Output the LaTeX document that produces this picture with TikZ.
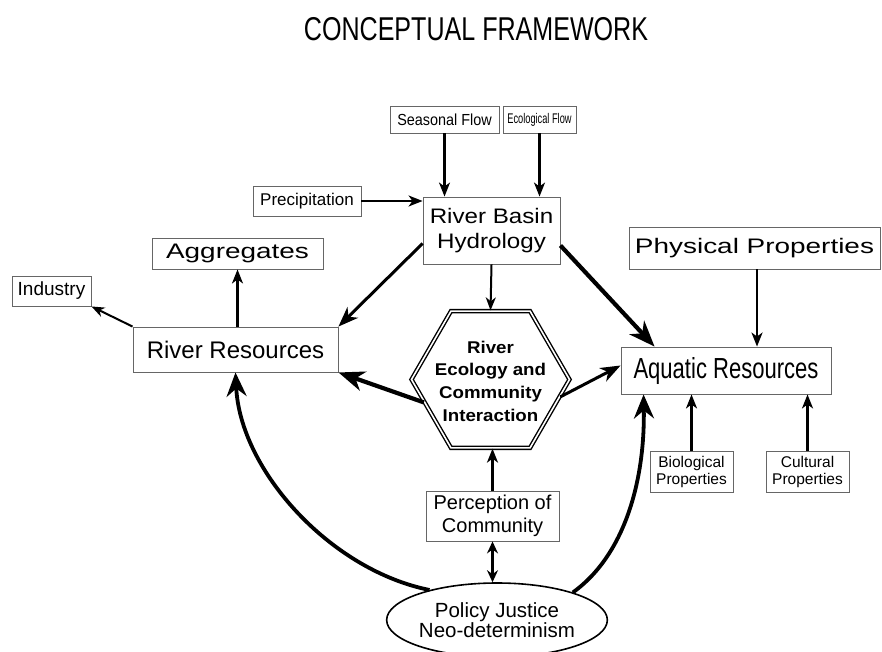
\documentclass[tikz,border=0pt]{standalone}
\usepackage{fontspec}
\setmainfont{Liberation Sans}
\newfontfamily\ftitle{Liberation Sans}[FakeStretch=0.76]
\newfontfamily\faqua{Liberation Sans}[FakeStretch=0.76]
\newfontfamily\feco{Liberation Sans}[FakeStretch=0.66]
\newfontfamily\fseas{Liberation Sans}[FakeStretch=0.9]
\newfontfamily\fwide{Liberation Sans}[FakeStretch=1.33]
\newfontfamily\fhyd{Liberation Sans}[FakeStretch=1.15]
\newfontfamily\fhex{Liberation Sans}[FakeStretch=1.1]
\usetikzlibrary{arrows.meta,shapes.geometric,calc}
\tikzset{
  box/.style={draw=black!60, line width=0.9pt, rectangle, inner sep=0pt, align=center, fill=white},
  arrS/.style={line width=2.2pt, -{Stealth[length=14pt,width=11pt,inset=4pt]}},
  arrM/.style={line width=3pt, -{Stealth[length=20pt,width=15pt,inset=6pt]}},
  arrL/.style={line width=4.2pt, -{Stealth[length=26pt,width=20pt,inset=8pt]}},
  arrC/.style={line width=3.8pt, -{Stealth[length=24pt,width=20pt,inset=8pt]}},
}
\begin{document}
\begin{tikzpicture}[x=1pt,y=-1pt]
\useasboundingbox (0,0) rectangle (882,652);
\node[font=\ftitle\fontsize{33}{36}\selectfont] (title) at (476,29) {CONCEPTUAL FRAMEWORK};

\node[box, minimum width=109pt, minimum height=27pt, font=\fseas\fontsize{16}{18}\selectfont] (seas) at (444.5,119.5) {Seasonal Flow};
\node[box, minimum width=73pt, minimum height=27pt, font=\feco\fontsize{14}{16}\selectfont] (eco) at (539.5,119.5) {Ecological Flow};
\node[box, minimum width=137pt, minimum height=67pt, font=\fhyd\fontsize{21}{25}\selectfont] (hydro) at (491.5,230.5) {River Basin\\Hydrology};
\node[box, minimum width=108pt, minimum height=30pt, font=\fontsize{17}{20}\selectfont] (precip) at (307,201) {Precipitation};
\node[box, minimum width=171pt, minimum height=31pt, font=\fwide\fontsize{21}{24}\selectfont] (aggr) at (237.5,253.5) {Aggregates};
\node[box, minimum width=79pt, minimum height=30pt, font=\fontsize{19}{22}\selectfont] (ind) at (51.5,291) {Industry};
\node[box, minimum width=205pt, minimum height=45pt, font=\fontsize{24}{27}\selectfont] (rivres) at (235.5,349.5) {River Resources};
\node[box, minimum width=210pt, minimum height=47pt, font=\faqua\fontsize{29}{32}\selectfont] (aqua) at (726,370.5) {Aquatic Resources};
\node[box, minimum width=251pt, minimum height=42pt, font=\fwide\fontsize{21}{24}\selectfont] (phys) at (754.5,248) {Physical Properties};
\node[box, minimum width=83pt, minimum height=41pt, font=\fontsize{15.5}{17}\selectfont] (bio) at (691.5,471.5) {Biological\\Properties};
\node[box, minimum width=83pt, minimum height=41pt, font=\fontsize{15.5}{17}\selectfont] (cult) at (807.5,471.5) {Cultural\\Properties};
\node[box, minimum width=133pt, minimum height=50pt, font=\fontsize{20}{23}\selectfont] (perc) at (492.5,516) {Perception of\\Community};
\node[draw, ellipse, line width=1.6pt, fill=white, minimum width=190pt, minimum height=74pt, inner sep=0pt, align=center, font=\fontsize{20.5}{19.5}\selectfont] (pol) at (497,620) {Policy Justice\\Neo-determinism};

\node[regular polygon, regular polygon sides=6, minimum size=158pt, inner sep=0pt, draw, double, line width=1.4pt, double distance=1.6pt] (hex) at (490.5,379.5) {};
\node[align=center, font=\fhex\bfseries\fontsize{17}{22.7}\selectfont] (hextxt) at (490.5,381) {River\\Ecology and\\Community\\Interaction};

% connectors
\draw[arrS] (seas.south) -- (seas.south |- hydro.north);
\draw[arrS] (eco.south) -- (eco.south |- hydro.north);
\draw[arrS] (precip.east) -- (precip.east -| hydro.west);
\draw[arrM] ($(hydro.west)+(0,13)$) -- (rivres.north east);
\draw[line width=2pt, -{Stealth[length=13pt,width=10pt,inset=4pt]}] (hydro.south) -- (hex.north);
\draw[arrL] ($(hydro.east)+(0,15)$) -- ($(aqua.north west)+(34,0)$);
\draw[arrS] (phys.south -| 757,0) -- (aqua.north -| 757,0);
\draw[arrS] (bio.north) -- (bio.north |- aqua.south);
\draw[arrS] (cult.north) -- (cult.north |- aqua.south);
\draw[arrM] (hex.346) -- ($(aqua.west)+(0,-5)$);
\draw[arrL] (hex.199) -- (rivres.south east);
\draw[line width=2pt, -{Stealth[length=13pt,width=10pt,inset=4pt]}] (rivres.north west) -- (ind.south east);
\draw[arrS] (rivres.north -| aggr.south) -- (aggr.south);
\draw[arrS] (perc.north) -- (perc.north |- hex.south);
\draw[line width=2.2pt, {Stealth[length=12pt,width=11pt,inset=4pt]}-{Stealth[length=12pt,width=11pt,inset=4pt]}] (perc.south) -- (perc.south |- pol.north);
\draw[arrC] (pol.156) .. controls (330,570) and (240,470) .. (rivres.south);
\draw[arrC] (pol.20) .. controls (625,555) and (645,480) .. ($(aqua.south west)+(23,0)$);
\end{tikzpicture}
\end{document}
